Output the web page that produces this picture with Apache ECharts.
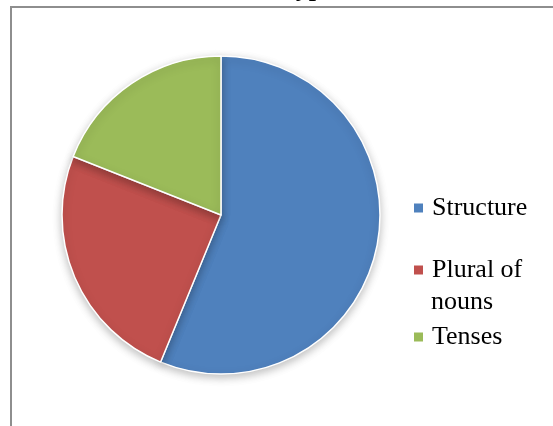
<!DOCTYPE html>
<html><head><meta charset="utf-8">
<script src="https://cdn.jsdelivr.net/npm/echarts@6/dist/echarts.min.js"></script>
<style>html,body{margin:0;padding:0;background:#fff}#c{width:553px;height:426px}</style>
</head><body><div id="c"></div>
<script>
var titleText = 'Error types';
var categories = ['Structure', 'Plural of nouns', 'Tenses'];
var values = [56.2, 24.8, 19.0];
var colors = ['#4F81BD', '#C0504D', '#9BBB59'];

var chart = echarts.init(document.getElementById('c'), null, {renderer: 'canvas'});
var font = '"Liberation Serif", "Times New Roman", serif';
function leg(name, top, label) {
  return {
    show: true, orient: 'vertical', left: 412, top: top, padding: 0,
    data: [name], icon: 'rect', itemWidth: 11, itemHeight: 11,
    formatter: function () { return label; },
    textStyle: {fontFamily: font, fontSize: 26, lineHeight: 26, color: '#000', padding: [0, 0, 0, 3]}
  };
}
chart.setOption({
  animation: false,
  backgroundColor: '#fff',
  title: {
    text: titleText, left: 216, top: -24, padding: 0,
    textStyle: {fontFamily: font, fontSize: 26, fontWeight: 'bold', color: '#000', lineHeight: 26}
  },
  color: colors,
  legend: [
    leg(categories[0], 195, 'Structure'),
    leg(categories[1], 257, 'Plural of'),
    leg(categories[2], 324, 'Tenses')
  ],
  graphic: [
    {type: 'rect', silent: true, z: -1, shape: {x: 11, y: 7, width: 700, height: 600},
     style: {fill: 'none', stroke: '#8e8e8e', lineWidth: 2}},
    {type: 'text', left: 431, top: 289, style: {text: 'nouns', font: '26px ' + font, fill: '#000'}}
  ],
  series: [{
    type: 'pie',
    center: [221, 215],
    radius: 159,
    startAngle: 90,
    clockwise: true,
    label: {show: false},
    labelLine: {show: false},
    emphasis: {disabled: true},
    itemStyle: {borderColor: '#fff', borderWidth: 1.5,
      shadowBlur: 9, shadowColor: 'rgba(0,0,0,0.25)', shadowOffsetY: 3},
    data: categories.map(function (c, i) { return {name: c, value: values[i]}; })
  }]
});
</script></body></html>
